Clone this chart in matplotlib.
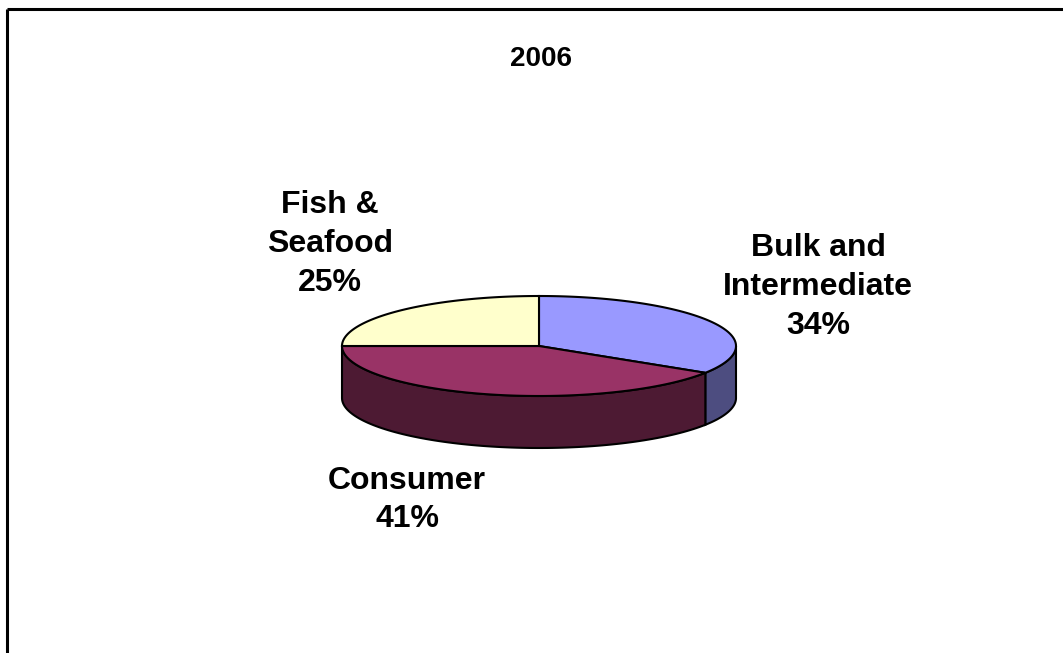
import numpy as np
import matplotlib
matplotlib.use("Agg")
from matplotlib import pyplot as plt

# data
segments = ["Bulk and\nIntermediate", "Consumer", "Fish &\nSeafood"]
shares = [34, 41, 25]
title = "2006"

# styles
top_colors = ["#9999FF", "#993366", "#FFFFCC"]
side_colors = ["#4D4D80", "#4D1A33", "#808066"]
label_xy = [(818, 287), (407, 500), (330, 244)]

# pie geometry in pixels (y grows downward)
cx, cy = 539, 346
rx, ry = 197, 50
depth = 52

fig = plt.figure(figsize=(10.63, 6.53), dpi=100)
ax = fig.add_axes([0, 0, 1, 1])
ax.set_xlim(0, 1063)
ax.set_ylim(653, 0)
ax.axis("off")

# chart frame (only top and left edges fall inside the image)
ax.plot([6.5, 1063], [8.5, 8.5], color="black", lw=2.2, solid_capstyle="butt")
ax.plot([6.5, 6.5], [8.5, 653], color="black", lw=2.2, solid_capstyle="butt")


def ellipse_pts(t, dy=0.0):
    r = np.radians(t)
    return cx + rx * np.cos(r), cy - ry * np.sin(r) + dy


total = sum(shares)
start = 90.0
spans = []
for s in shares:
    end = start - 360.0 * s / total
    spans.append((start, end))
    start = end

# sides first (front half of the rim: angles from -180 to 0)
for (a0, a1), col in zip(spans, side_colors):
    lo, hi = max(a1, -180.0), min(a0, 0.0)
    if hi <= lo:
        continue
    t = np.linspace(lo, hi, 100)
    xt, yt = ellipse_pts(t)
    xb, yb = ellipse_pts(t[::-1], depth)
    ax.fill(np.concatenate([xt, xb]), np.concatenate([yt, yb]),
            facecolor=col, edgecolor="black", lw=1.5, zorder=2)

# top faces
for (a0, a1), col in zip(spans, top_colors):
    t = np.linspace(a0, a1, 200)
    xt, yt = ellipse_pts(t)
    ax.fill(np.concatenate([[cx], xt]), np.concatenate([[cy], yt]),
            facecolor=col, edgecolor="black", lw=1.5, zorder=3)

ax.text(541, 59, title, ha="center", va="center", fontsize=20,
        fontweight="bold", family="Liberation Sans")

for name, s, (lx, ly) in zip(segments, shares, label_xy):
    pct = round(100.0 * s / total)
    ax.text(lx, ly, f"{name}\n{pct}%", ha="center", va="center",
            fontsize=23, fontweight="bold", family="Liberation Sans",
            linespacing=1.38)

fig.savefig("out.png", dpi=100)
